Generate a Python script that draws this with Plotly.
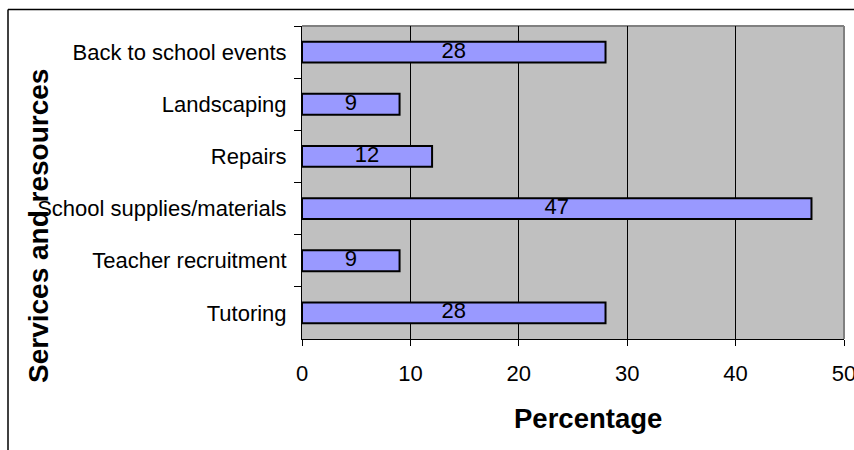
import plotly.graph_objects as go

# Survey results: share of respondents naming each service/resource
categories = [
    "Back to school events",
    "Landscaping",
    "Repairs",
    "School supplies/materials",
    "Teacher recruitment",
    "Tutoring",
]
percentages = [28, 9, 12, 47, 9, 28]
x_ticks = [0, 10, 20, 30, 40, 50]

W, H = 854, 450
ML, MR, MT, MB = 302, 10, 26, 111
PW, PH = W - ML - MR, H - MT - MB


def px_x(px):
    return (px - ML) / PW


def px_y(py):
    return (H - MB - py) / PH


FONT = "Liberation Sans, Arial, sans-serif"

fig = go.Figure()

fig.add_trace(go.Bar(
    x=percentages,
    y=categories,
    orientation="h",
    marker=dict(color="#9999FF", line=dict(color="black", width=2)),
    hoverinfo="x+y",
))

# value labels centred on each bar
fig.add_trace(go.Scatter(
    x=[v / 2 for v in percentages],
    y=categories,
    mode="text",
    text=[str(v) for v in percentages],
    textfont=dict(family=FONT, size=22, color="black"),
    hoverinfo="skip",
))

fig.update_layout(
    width=W,
    height=H,
    margin=dict(l=ML, r=MR, t=MT, b=MB, pad=0, autoexpand=False),
    paper_bgcolor="white",
    plot_bgcolor="#C0C0C0",
    showlegend=False,
    bargap=0.6,
    font=dict(family=FONT, color="black"),
    xaxis=dict(
        range=[0, 50],
        tickvals=x_ticks,
        ticktext=[str(t) for t in x_ticks],
        ticks="outside",
        ticklen=6,
        tickwidth=1,
        tickcolor="black",
        ticklabelstandoff=9,
        ticklabeloverflow="allow",
        automargin=False,
        tickfont=dict(family=FONT, size=22, color="black"),
        showgrid=True,
        gridcolor="black",
        gridwidth=1,
        showline=True,
        linecolor="black",
        linewidth=1,
        zeroline=False,
        fixedrange=True,
    ),
    yaxis=dict(
        type="category",
        autorange="reversed",
        ticks="outside",
        tickson="boundaries",
        ticklen=7,
        tickwidth=1,
        tickcolor="black",
        ticklabelstandoff=10,
        automargin=False,
        tickfont=dict(family=FONT, size=22, color="black"),
        showgrid=False,
        showline=True,
        linecolor="black",
        linewidth=1,
        zeroline=False,
        fixedrange=True,
    ),
    shapes=[
        # plot area frame (top and right edges)
        dict(type="line", xref="paper", yref="paper", x0=0, x1=1, y0=1, y1=1,
             line=dict(color="#808080", width=2), layer="below"),
        dict(type="line", xref="paper", yref="paper", x0=1, x1=1, y0=0, y1=1,
             line=dict(color="#808080", width=2), layer="below"),
        # chart area frame
        dict(type="line", xref="paper", yref="paper",
             x0=px_x(8), x1=px_x(870), y0=px_y(9.5), y1=px_y(9.5),
             line=dict(color="black", width=1.5)),
        dict(type="line", xref="paper", yref="paper",
             x0=px_x(8), x1=px_x(8), y0=px_y(9.5), y1=px_y(470),
             line=dict(color="black", width=1.5)),
    ],
    annotations=[
        dict(text="<b>Percentage</b>", xref="paper", yref="paper",
             x=px_x(588), y=px_y(418), xanchor="center", yanchor="middle",
             showarrow=False, font=dict(family=FONT, size=27.5, color="black")),
        dict(text="<b>Services and resources</b>", xref="paper", yref="paper",
             x=px_x(38), y=px_y(226), xanchor="center", yanchor="middle",
             textangle=-90, showarrow=False,
             font=dict(family=FONT, size=28, color="black")),
    ],
)

fig.write_html("out.html")
